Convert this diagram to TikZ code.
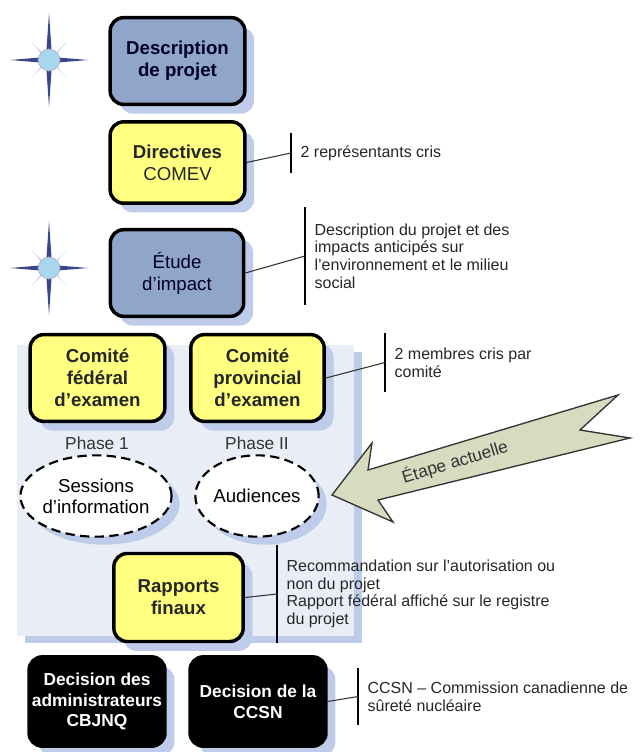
\documentclass[tikz,border=0pt]{standalone}
\usepackage{fontspec}
\setmainfont{Liberation Sans}
\usetikzlibrary{shapes.geometric,shadows}
\definecolor{stepblue}{RGB}{143,166,202}
\definecolor{stepyellow}{RGB}{255,255,128}
\definecolor{shadeblue}{RGB}{190,204,234}
\definecolor{panelblue}{RGB}{233,238,246}
\definecolor{arrowgreen}{RGB}{215,219,192}
\definecolor{starnavy}{RGB}{58,70,138}
\definecolor{starcore}{RGB}{170,215,240}
\tikzset{
  box/.style={draw, line width=2.6pt, rounded corners=10pt, align=center, minimum width=101pt, minimum height=65pt, inner sep=2pt,
    font=\fontsize{14}{16.5}\selectfont, drop shadow={shadow xshift=7pt, shadow yshift=-7pt, fill=shadeblue, opacity=1}},
  plan/.style={box, fill=stepblue, text=black!85!blue},
  review/.style={box, fill=stepyellow, text=black!85},
  verdict/.style={box, fill=black, text=white, minimum width=102pt, minimum height=67pt, font=\fontsize{13}{15.5}\selectfont\bfseries},
  session/.style={ellipse, draw, dash pattern=on 7pt off 4pt, line width=1.6pt, fill=white, minimum width=91pt, minimum height=61pt,
    inner sep=0pt, align=center, font=\fontsize{14}{16}\selectfont, drop shadow={shadow xshift=6pt, shadow yshift=-6pt, fill=shadeblue, opacity=1}},
  note/.style={anchor=west, align=left, inner xsep=7pt, inner ysep=0pt, font=\fontsize{12}{13.2}\selectfont, text=black!85},
  bar/.style={line width=0.8pt},
  link/.style={line width=0.8pt, black!80},
  phase/.style={font=\fontsize{13}{15}\selectfont, text=black!80}}

\begin{document}
\begin{tikzpicture}[x=0.75pt, y=-0.75pt]
  \useasboundingbox (0,0) rectangle (639,752);
  % background panel of the review phase
  \fill[panelblue, drop shadow={shadow xshift=6pt, shadow yshift=-5pt, fill=shadeblue, opacity=1}] (17,345) rectangle (354,636);
  % compass stars
  \foreach \cy in {60,268} {
    \fill[starnavy!35] (49,\cy) -- (66,\cy-17) -- (51,\cy) -- (66,\cy+17) -- (49,\cy) -- (32,\cy+17) -- (47,\cy) -- (32,\cy-17) -- cycle;
    \fill[starnavy] (49,\cy-47) -- (52,\cy-3) -- (88,\cy) -- (52,\cy+3) -- (49,\cy+47) -- (46,\cy+3) -- (10,\cy) -- (46,\cy-3) -- cycle;
    \filldraw[fill=starcore, draw=gray!70, densely dotted, line width=0.8pt] (49,\cy) circle (11);
  }
  % steps
  \node[plan, font=\fontsize{14}{16.5}\selectfont\bfseries] (desc) at (177.5,61) {Description\\de projet};
  \node[review, minimum height=61pt] (directives) at (177.5,162.5) {\textbf{Directives}\\COMEV};
  \node[plan, minimum width=100pt] (etude) at (177,273) {Étude\\d’impact};
  \node[review, font=\fontsize{14}{16.5}\selectfont\bfseries] (cfed) at (97.5,378) {Comité\\fédéral\\d’examen};
  \node[review, minimum width=100pt, font=\fontsize{14}{16.5}\selectfont\bfseries] (cprov) at (257.5,378) {Comité\\provincial\\d’examen};
  \node[phase] (ph1) at (97,443) {Phase 1};
  \node[phase] (ph2) at (257,443) {Phase II};
  \node[session] (sess) at (96,496) {Sessions\\d’information};
  \node[session] (aud) at (257,496) {Audiences};
  \node[review, minimum width=97pt, minimum height=66pt, font=\fontsize{14}{16.5}\selectfont\bfseries] (rapports) at (178.5,597.5) {Rapports\\finaux};
  \node[verdict] (dadmin) at (97,701.5) {Decision des\\administrateurs\\CBJNQ};
  \node[verdict] (dccsn) at (258,701.5) {Decision de la\\CCSN};
  % side notes
  \node[note, minimum height=30pt] (nDir) at (291,153) {2 représentants cris};
  \node[note, minimum height=73.5pt] (nEtude) at (305,256) {Description du projet et des\\impacts anticipés sur\\l’environnement et le milieu\\social};
  \node[note, minimum height=44pt] (nComite) at (385,362.5) {2 membres cris par\\comité};
  \node[note, minimum height=73.5pt] (nRapports) at (277,594) {Recommandation sur l’autorisation ou\\non du projet\\Rapport fédéral affiché sur le registre\\du projet};
  \node[note, minimum height=43pt] (nCcsn) at (358,696.5) {CCSN – Commission canadienne de\\sûreté nucléaire};
  \foreach \n in {nDir,nEtude,nComite,nRapports,nCcsn} \draw[bar] (\n.north west) -- (\n.south west);
  \draw[link] (directives.east) -- (nDir.west);
  \draw[link] (etude.east) -- (nEtude.west);
  \draw[link] (cprov.east) -- (nComite.west);
  \draw[link] (rapports.east) -- (nRapports.west);
  \draw[link] (dccsn.east) -- (nCcsn.west);
  % current step arrow
  \filldraw[fill=arrowgreen, draw=black!80, line width=1pt, line join=miter]
    (332,495) -- (372,443) -- (368,470) -- (618,395) -- (580,430) -- (630,438) -- (378,500) -- (393,522) -- cycle;
  \node[rotate=17, font=\fontsize{13}{15}\selectfont, text=black!80] (current) at (455,462) {Étape actuelle};
\end{tikzpicture}
\end{document}
